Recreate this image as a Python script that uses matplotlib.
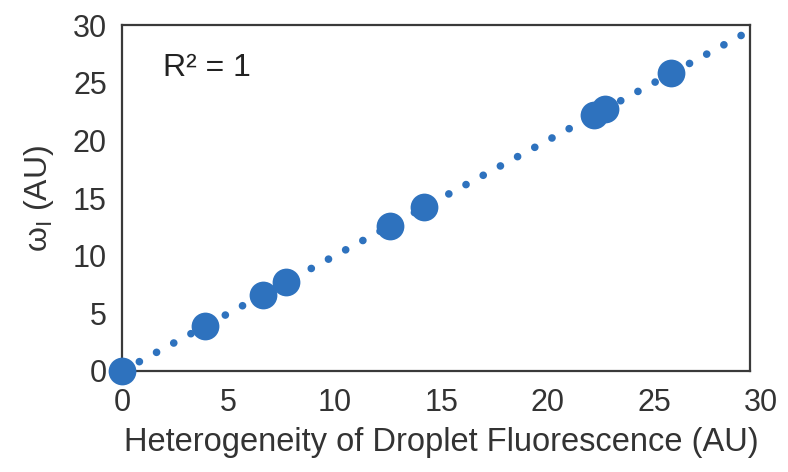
import matplotlib.pyplot as plt
import numpy as np

plt.rcParams['font.family'] = ['Liberation Sans', 'DejaVu Sans']

# measured points (heterogeneity vs omega_I)
het = [0.0, 3.9, 6.6, 7.7, 12.6, 14.2, 22.2, 22.7, 25.8]
omega = [0.0, 3.9, 6.6, 7.7, 12.6, 14.2, 22.2, 22.7, 25.8]
fit_x = [0.0, 29.5]
xticks = [0, 5, 10, 15, 20, 25, 30]
yticks = [0, 5, 10, 15, 20, 25, 30]

blue = '#2E72BE'
grey = '#333333'

fig = plt.figure(figsize=(7.88, 4.72), dpi=100)
ax = fig.add_axes([0.155, 0.214, 0.81, 0.733])

# dotted linear trendline (slope 1)
fx = np.array(fit_x)
ax.plot(fx, fx, color=blue, lw=5.5, linestyle=(0, (0.01, 2.55)),
        dash_capstyle='round', zorder=2, clip_on=False)
ax.scatter(het, omega, s=400, color=blue, zorder=3, clip_on=False, linewidths=0)

ax.set_xlim(0, 30)
ax.set_ylim(0, 30)
ax.set_xticks(xticks)
ax.set_yticks(yticks)
ax.tick_params(length=0, labelsize=22, colors=grey)
ax.tick_params(axis='x', pad=12)
ax.tick_params(axis='y', pad=11)

for s in ax.spines.values():
    s.set_color('#3a3a3a')
    s.set_linewidth(1.6)
ax.spines['right'].set_position(('data', 29.5))
ax.spines['top'].set_bounds(0, 29.5)
ax.spines['bottom'].set_bounds(0, 29.5)

ax.set_xlabel('Heterogeneity of Droplet Fluorescence (AU)', fontsize=23.5, color=grey, labelpad=7)
ax.set_ylabel('ω$_\\mathregular{I}$ (AU)', fontsize=23, color=grey, labelpad=12)
ax.text(0.064, 0.875, 'R² = 1', transform=ax.transAxes, fontsize=23, color='#222222', va='center')

fig.savefig('out.png', dpi=100)
